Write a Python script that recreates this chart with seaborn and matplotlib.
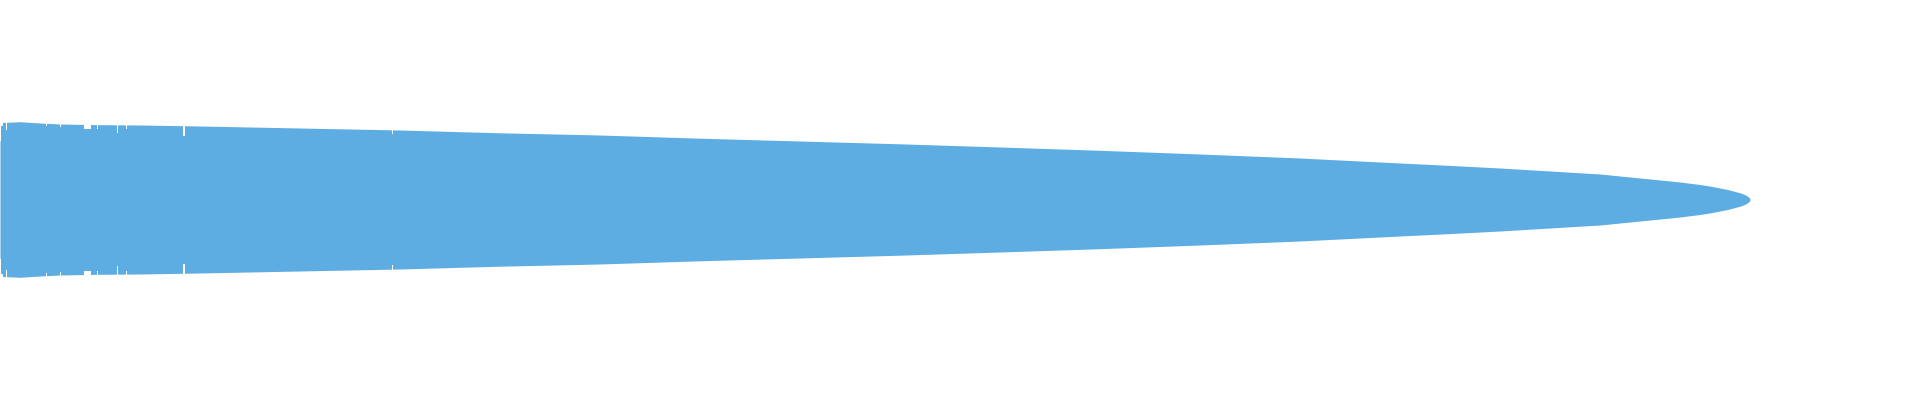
import numpy as np
import seaborn as sns
import matplotlib
matplotlib.use("Agg")
import matplotlib.pyplot as plt

# envelope of the waveform: sample position and half amplitude
positions = [0, 2, 20, 40, 60, 100, 140, 200, 300, 400, 500, 600, 700, 800,
             900, 1000, 1100, 1200, 1300, 1400, 1450, 1500, 1550, 1600, 1620,
             1640, 1660, 1680, 1700, 1710, 1720, 1728, 1735, 1740, 1745, 1747,
             1749, 1749.7, 1750]
amplitude = [77.0, 77.0, 77.8, 76.5, 75.5, 74.8, 74.5, 73.5, 71.5, 69.5, 66.7,
             64.5, 61.3, 58.5, 55.7, 52.5, 49.2, 45.5, 41.5, 36.5, 34.1, 31.5,
             28.5, 25.5, 23.5, 21.5, 19.5, 17.5, 15.0, 13.4, 11.5, 9.9, 8.0,
             6.7, 4.8, 3.7, 2.1, 1.2, 0.0]

# short drops in the signal near the start
dip_start = [0, 1.2, 6, 45.5, 59.5, 83.5, 96.5, 116.5, 125.5, 183, 391.5]
dip_width = [1.2, 1.3, 1, 1.2, 1, 7, 1, 1.2, 1, 1.5, 1]
dip_amp = [59, 74, 70, 73.5, 72.5, 71, 71, 66.5, 71, 64, 65.5]

wave_color = "#5DADE2"

sns.set_style("white")
fig = plt.figure(figsize=(19.2, 4), dpi=100)
ax = fig.add_axes([0, 0, 1, 1])

amp = np.array(amplitude)
ax.fill_between(positions, -amp, amp, color=wave_color, linewidth=0,
                antialiased=False)

# cut the drops out of the envelope, top and bottom
d_amp = np.array(dip_amp)
ax.bar(dip_start, 100, bottom=d_amp, width=dip_width, align="edge",
       color="white", linewidth=0, antialiased=False)
ax.bar(dip_start, -100, bottom=-d_amp, width=dip_width, align="edge",
       color="white", linewidth=0, antialiased=False)

ax.set_xlim(0, 1920)
ax.set_ylim(-200.5, 199.5)
ax.axis("off")

fig.savefig("out.png", dpi=100, facecolor="white", bbox_inches=None)
